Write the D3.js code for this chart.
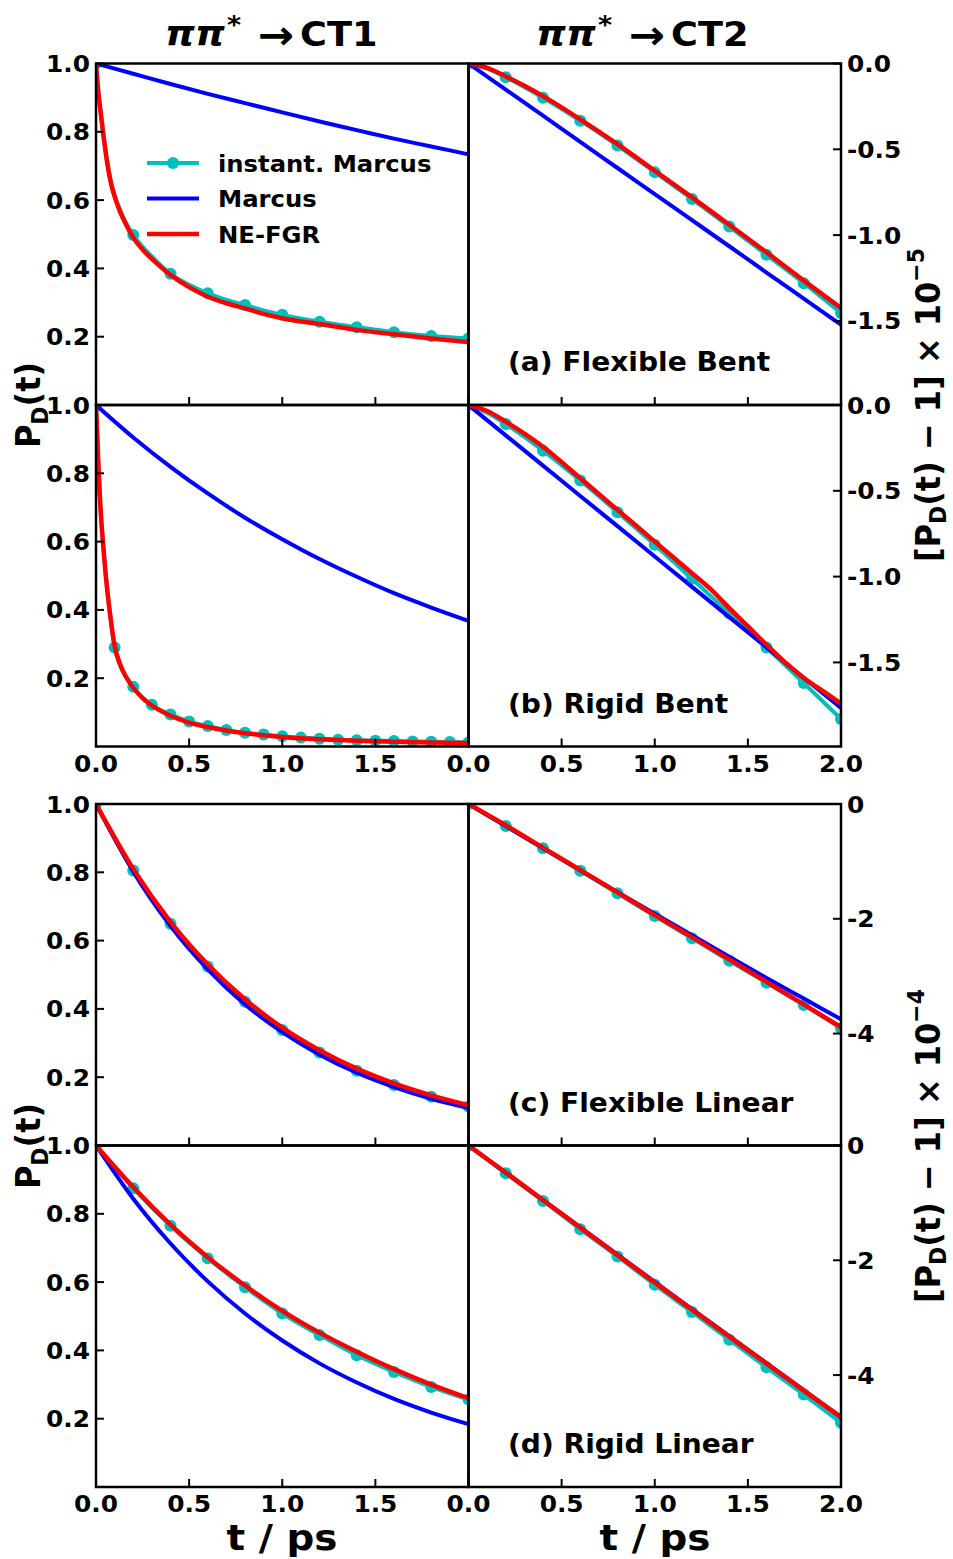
<!DOCTYPE html>
<html><head><meta charset="utf-8">
<script src="https://cdn.jsdelivr.net/npm/d3@7"></script>
<style>
body{margin:0;background:#fff}
text{font-family:"DejaVu Sans";font-weight:bold;fill:#000}
</style>
</head><body><svg id="c" width="953" height="1559"></svg>
<script>
// ---------- data ----------
const tGrid = [0, 0.2, 0.4, 0.6, 0.8, 1.0, 1.2, 1.4, 1.6, 1.8, 2.0];

// (a) Flexible Bent, CT1
const aCT1_tRed = [0, 0.01, 0.02, 0.04, 0.06, 0.08, 0.1, 0.13, 0.16, 0.2, 0.25, 0.3, 0.4, 0.5, 0.6, 0.7, 0.8, 0.9, 1.0, 1.2, 1.4, 1.6, 1.8, 2.0];
const aCT1_red  = [1.0, 0.93, 0.88, 0.79, 0.71, 0.65, 0.61, 0.565, 0.53, 0.49, 0.455, 0.428, 0.381, 0.345, 0.317, 0.298, 0.283, 0.267, 0.254, 0.237, 0.220, 0.207, 0.195, 0.184];
const aCT1_tCyan = [0, 0.01, 0.02, 0.04, 0.06, 0.08, 0.1, 0.13, 0.16, 0.2, 0.3, 0.4, 0.5, 0.6, 0.7, 0.8, 0.9, 1.0, 1.2, 1.4, 1.6, 1.8, 2.0];
const aCT1_cyan  = [1.0, 0.93, 0.88, 0.79, 0.715, 0.655, 0.615, 0.57, 0.535, 0.498, 0.435, 0.384, 0.352, 0.327, 0.308, 0.293, 0.277, 0.264, 0.244, 0.228, 0.213, 0.202, 0.195];
const aCT1_blue  = [1.0, 0.970, 0.940, 0.911, 0.884, 0.857, 0.830, 0.805, 0.780, 0.757, 0.734];
const aCT1_marks = [0, 0.2, 0.4, 0.6, 0.8, 1.0, 1.2, 1.4, 1.6, 1.8, 2.0];

// (a) Flexible Bent, CT2 (x 1e-5)
const aCT2_tRed = [0, 0.1, 0.2, 0.3, 0.4, 0.6, 0.8, 1.0, 1.2, 1.4, 1.6, 1.8, 2.0];
const aCT2_red  = [0, -0.025, -0.075, -0.13, -0.19, -0.325, -0.47, -0.625, -0.78, -0.94, -1.10, -1.265, -1.425];
const aCT2_tCyan = [0, 0.1, 0.2, 0.3, 0.4, 0.6, 0.8, 1.0, 1.2, 1.4, 1.6, 1.8, 2.0];
const aCT2_cyan  = [0, -0.03, -0.080, -0.138, -0.199, -0.333, -0.478, -0.633, -0.789, -0.950, -1.115, -1.280, -1.454];
const aCT2_blue  = [0, -0.152, -0.304, -0.457, -0.609, -0.761, -0.913, -1.065, -1.218, -1.370, -1.522];
const aCT2_marks = [0, 0.2, 0.4, 0.6, 0.8, 1.0, 1.2, 1.4, 1.6, 1.8, 2.0];

// (b) Rigid Bent, CT1
const bCT1_tRed = [0, 0.01, 0.02, 0.03, 0.04, 0.05, 0.06, 0.075, 0.1, 0.13, 0.16, 0.2, 0.25, 0.3, 0.4, 0.5, 0.6, 0.7, 0.8, 0.9, 1.0, 1.2, 1.4, 1.6, 1.8, 2.0];
const bCT1_red  = [1.0, 0.86, 0.74, 0.65, 0.58, 0.515, 0.46, 0.39, 0.295, 0.24, 0.205, 0.172, 0.142, 0.12, 0.09, 0.07, 0.057, 0.047, 0.039, 0.033, 0.028, 0.021, 0.017, 0.014, 0.012, 0.010];
const bCT1_tCyan = [0, 0.01, 0.02, 0.03, 0.04, 0.05, 0.06, 0.075, 0.1, 0.2, 0.3, 0.4, 0.5, 0.6, 0.7, 0.8, 0.9, 1.0, 1.1, 1.2, 1.3, 1.4, 1.5, 1.6, 1.7, 1.8, 1.9, 2.0];
const bCT1_cyan  = [1.0, 0.86, 0.74, 0.65, 0.58, 0.515, 0.46, 0.39, 0.29, 0.175, 0.122, 0.094, 0.073, 0.060, 0.048, 0.040, 0.035, 0.030, 0.026, 0.023, 0.020, 0.018, 0.017, 0.016, 0.015, 0.014, 0.013, 0.012];
const bCT1_blue  = [1.0, 0.905, 0.819, 0.741, 0.670, 0.607, 0.549, 0.497, 0.449, 0.407, 0.368];
const bCT1_marks = [0, 0.1, 0.2, 0.3, 0.4, 0.5, 0.6, 0.7, 0.8, 0.9, 1.0, 1.1, 1.2, 1.3, 1.4, 1.5, 1.6, 1.7, 1.8, 1.9, 2.0];

// (b) Rigid Bent, CT2 (x 1e-5)
const bCT2_tRed = [0, 0.1, 0.2, 0.4, 0.6, 0.8, 1.0, 1.2, 1.3, 1.4, 1.5, 1.6, 1.7, 1.8, 1.9, 2.0];
const bCT2_red  = [0, -0.035, -0.097, -0.243, -0.427, -0.611, -0.796, -0.980, -1.073, -1.184, -1.29, -1.397, -1.50, -1.591, -1.665, -1.74];
const bCT2_tCyan = [0, 0.1, 0.2, 0.4, 0.6, 0.8, 1.0, 1.2, 1.4, 1.6, 1.8, 2.0];
const bCT2_cyan  = [0, -0.045, -0.111, -0.266, -0.440, -0.625, -0.815, -1.013, -1.213, -1.413, -1.620, -1.830];
const bCT2_blue  = [0, -0.177, -0.353, -0.530, -0.706, -0.883, -1.060, -1.236, -1.413, -1.589, -1.766];
const bCT2_marks = [0, 0.2, 0.4, 0.6, 0.8, 1.0, 1.2, 1.4, 1.6, 1.8, 2.0];

// (c) Flexible Linear, CT1
const cCT1_red  = [1.0, 0.81, 0.655, 0.53, 0.428, 0.345, 0.279, 0.225, 0.182, 0.147, 0.118];
const cCT1_cyan = [1.0, 0.805, 0.649, 0.524, 0.421, 0.338, 0.272, 0.219, 0.177, 0.143, 0.114];
const cCT1_blue = [1.0, 0.802, 0.643, 0.516, 0.413, 0.332, 0.266, 0.213, 0.171, 0.137, 0.110];

// (c) Flexible Linear, CT2 (x 1e-4)
const cCT2_red  = [0, -0.37, -0.76, -1.15, -1.54, -1.935, -2.32, -2.71, -3.10, -3.49, -3.89];
const cCT2_cyan = [0, -0.383, -0.772, -1.162, -1.556, -1.951, -2.340, -2.730, -3.113, -3.502, -3.908];
const cCT2_blue = [0, -0.385, -0.77, -1.155, -1.535, -1.91, -2.285, -2.66, -3.03, -3.39, -3.75];

// (d) Rigid Linear, CT1
const dCT1_red  = [1.0, 0.878, 0.768, 0.673, 0.590, 0.516, 0.452, 0.396, 0.345, 0.300, 0.260];
const dCT1_cyan = [1.0, 0.875, 0.765, 0.670, 0.585, 0.508, 0.445, 0.386, 0.337, 0.293, 0.256];
const dCT1_blue = [1.0, 0.844, 0.713, 0.602, 0.508, 0.429, 0.362, 0.306, 0.258, 0.218, 0.184];

// (d) Rigid Linear, CT2 (x 1e-4)
const dCT2_red  = [0, -0.47, -0.95, -1.43, -1.91, -2.39, -2.86, -3.33, -3.80, -4.27, -4.73];
const dCT2_cyan = [0, -0.484, -0.965, -1.458, -1.934, -2.426, -2.901, -3.383, -3.864, -4.339, -4.83];
const dCT2_blue = [0, -0.475, -0.95, -1.425, -1.90, -2.375, -2.85, -3.32, -3.79, -4.26, -4.74];

// ticks / labels
const xTicks = [0, 0.5, 1.0, 1.5, 2.0];
const xTickLabelsLeft = ["0.0", "0.5", "1.0", "1.5", ""];
const xTickLabelsRight = ["0.0", "0.5", "1.0", "1.5", "2.0"];
const yTicksLeft = [0.2, 0.4, 0.6, 0.8, 1.0];
const yTicksRightTop = [0, -0.5, -1.0, -1.5];
const yTickLabelsRightTop = ["0.0", "-0.5", "-1.0", "-1.5"];
const yTicksRightBottom = [0, -2, -4];
const yTickLabelsRightBottom = ["0", "-2", "-4"];
const panelLabels = ["(a) Flexible Bent", "(b) Rigid Bent", "(c) Flexible Linear", "(d) Rigid Linear"];
const legendLabels = ["instant. Marcus", "Marcus", "NE-FGR"];
const colTitles = ["CT1", "CT2"];

// ---------- layout ----------
const SX = 1.08;
const colors = {cyan: "#00bfbf", blue: "#0000ff", red: "#ff0000"};
const colX = [96, 468.5];
const pw = 372.5;
const rowY = [63.5, 405, 804, 1145.5];
const ph = 341.5;

const svg = d3.select("#c");
svg.append("rect").attr("width", 953).attr("height", 1559).attr("fill", "#fff");

function txt(g, x, y, size, anchor, rot) {
  return g.append("text")
    .attr("transform", `translate(${x},${y}) scale(${SX},1)` + (rot ? " rotate(-90)" : ""))
    .attr("font-size", size)
    .attr("text-anchor", anchor);
}

const panels = [
  {r:0,c:0, red:[aCT1_tRed,aCT1_red], cyan:[aCT1_tCyan,aCT1_cyan], blue:[tGrid,aCT1_blue], marks:aCT1_marks, yd:[0,1]},
  {r:0,c:1, red:[aCT2_tRed,aCT2_red], cyan:[aCT2_tCyan,aCT2_cyan], blue:[tGrid,aCT2_blue], marks:aCT2_marks, yd:[-1.99,0]},
  {r:1,c:0, red:[bCT1_tRed,bCT1_red], cyan:[bCT1_tCyan,bCT1_cyan], blue:[tGrid,bCT1_blue], marks:bCT1_marks, yd:[0,1]},
  {r:1,c:1, red:[bCT2_tRed,bCT2_red], cyan:[bCT2_tCyan,bCT2_cyan], blue:[tGrid,bCT2_blue], marks:bCT2_marks, yd:[-1.99,0]},
  {r:2,c:0, red:[tGrid,cCT1_red], cyan:[tGrid,cCT1_cyan], blue:[tGrid,cCT1_blue], marks:tGrid, yd:[0,1]},
  {r:2,c:1, red:[tGrid,cCT2_red], cyan:[tGrid,cCT2_cyan], blue:[tGrid,cCT2_blue], marks:tGrid, yd:[-5.95,0]},
  {r:3,c:0, red:[tGrid,dCT1_red], cyan:[tGrid,dCT1_cyan], blue:[tGrid,dCT1_blue], marks:tGrid, yd:[0,1]},
  {r:3,c:1, red:[tGrid,dCT2_red], cyan:[tGrid,dCT2_cyan], blue:[tGrid,dCT2_blue], marks:tGrid, yd:[-5.95,0]},
];

const defs = svg.append("defs");

panels.forEach((p, i) => {
  const x0 = colX[p.c], y0 = rowY[p.r];
  const x = d3.scaleLinear().domain([0, 2]).range([x0, x0 + pw]);
  const y = d3.scaleLinear().domain(p.yd).range([y0 + ph, y0]);
  const cid = "clip" + i;
  defs.append("clipPath").attr("id", cid).append("rect")
    .attr("x", x0).attr("y", y0).attr("width", pw).attr("height", ph);
  const g = svg.append("g");
  const plot = g.append("g").attr("clip-path", `url(#${cid})`);
  const line = d3.line().x(d => x(d[0])).y(d => y(d[1])).curve(d3.curveMonotoneX);
  const zip = (a) => a[0].map((t, k) => [t, a[1][k]]);
  const cyanPts = zip(p.cyan);
  plot.append("path").attr("d", line(cyanPts)).attr("fill", "none")
    .attr("stroke", colors.cyan).attr("stroke-width", 4);
  const markPts = p.marks.map(t => cyanPts.find(d => Math.abs(d[0] - t) < 1e-9)).filter(Boolean);
  plot.selectAll(null).data(markPts).enter().append("circle")
    .attr("cx", d => x(d[0])).attr("cy", d => y(d[1])).attr("r", 6).attr("fill", colors.cyan);
  plot.append("path").attr("d", line(zip(p.blue))).attr("fill", "none")
    .attr("stroke", colors.blue).attr("stroke-width", 4);
  plot.append("path").attr("d", line(zip(p.red))).attr("fill", "none")
    .attr("stroke", colors.red).attr("stroke-width", 4.5);

  g.append("rect").attr("x", x0).attr("y", y0).attr("width", pw).attr("height", ph)
    .attr("fill", "none").attr("stroke", "#000").attr("stroke-width", 2.5);

  const bottom = p.r === 1 || p.r === 3;
  xTicks.forEach((t, k) => {
    g.append("line").attr("x1", x(t)).attr("x2", x(t)).attr("y1", y0 + ph).attr("y2", y0 + ph - 8)
      .attr("stroke", "#000").attr("stroke-width", 2);
    if (bottom) {
      const lab = (p.c === 0 ? xTickLabelsLeft : xTickLabelsRight)[k];
      if (lab) txt(g, x(t), y0 + ph + 25, 23, "middle").text(lab);
    }
  });

  if (p.c === 0) {
    yTicksLeft.forEach(v => {
      g.append("line").attr("x1", x0).attr("x2", x0 + 8).attr("y1", y(v)).attr("y2", y(v))
        .attr("stroke", "#000").attr("stroke-width", 2);
      txt(g, x0 - 6, y(v) + 8.5, 23, "end").text(v.toFixed(1));
    });
  } else {
    const top = p.r < 2;
    const tv = top ? yTicksRightTop : yTicksRightBottom;
    const tl = top ? yTickLabelsRightTop : yTickLabelsRightBottom;
    tv.forEach((v, k) => {
      g.append("line").attr("x1", x0 + pw).attr("x2", x0 + pw - 8).attr("y1", y(v)).attr("y2", y(v))
        .attr("stroke", "#000").attr("stroke-width", 2);
      txt(g, x0 + pw + 6, y(v) + 8.5, 23, "start").text(tl[k]);
    });
    txt(g, colX[1] + 39.5, y0 + 307.5, 26, "start").text(panelLabels[p.r]);
  }
});

// legend (panel a, left)
const legY = [163, 198.5, 234];
const legColors = [colors.cyan, colors.blue, colors.red];
const lg = svg.append("g");
legendLabels.forEach((lab, k) => {
  lg.append("line").attr("x1", 147).attr("x2", 199).attr("y1", legY[k]).attr("y2", legY[k])
    .attr("stroke", legColors[k]).attr("stroke-width", k === 2 ? 4.5 : 4);
  if (k === 0) lg.append("circle").attr("cx", 173).attr("cy", legY[k]).attr("r", 6).attr("fill", colors.cyan);
  txt(lg, 218, legY[k] + 8.5, 22.5, "start").text(lab);
});

// column titles (pieces placed like the reference's math text)
const titleX = [167, 538];
colTitles.forEach((ct, k) => {
  const x0 = titleX[k];
  txt(svg, x0 - 2, 46, 35, "start").attr("font-style", "italic").text("ππ");
  txt(svg, x0 + 60, 33, 25, "start").attr("font-weight", "normal").text("*");
  txt(svg, x0 + 91, 49, 40, "start").attr("font-weight", "normal").text("→");
  txt(svg, x0 + 133, 46, 34, "start").text(ct);
});

// y labels (left)
[405, 1146].forEach(cy => {
  const t = txt(svg, 40, cy, 32, "middle", true);
  t.append("tspan").text("P");
  t.append("tspan").attr("font-size", 22).attr("dy", 7).text("D");
  t.append("tspan").attr("dy", -7).text("(t)");
});
// y labels (right)
[["5", 405], ["4", 1146]].forEach(([ex, cy]) => {
  const t = txt(svg, 940, cy, 32, "middle", true);
  t.append("tspan").text("[P");
  t.append("tspan").attr("font-size", 22).attr("dy", 5.5).text("D");
  t.append("tspan").attr("dy", -5.5).text("(t) \u2212 1] \u00d7 10");
  t.append("tspan").attr("font-size", 22).attr("dy", -15).text("\u2212" + ex);
});
// x labels
[282, 655].forEach(cx => {
  txt(svg, cx, 1550, 36, "middle").text("t / ps");
});
</script></body></html>
